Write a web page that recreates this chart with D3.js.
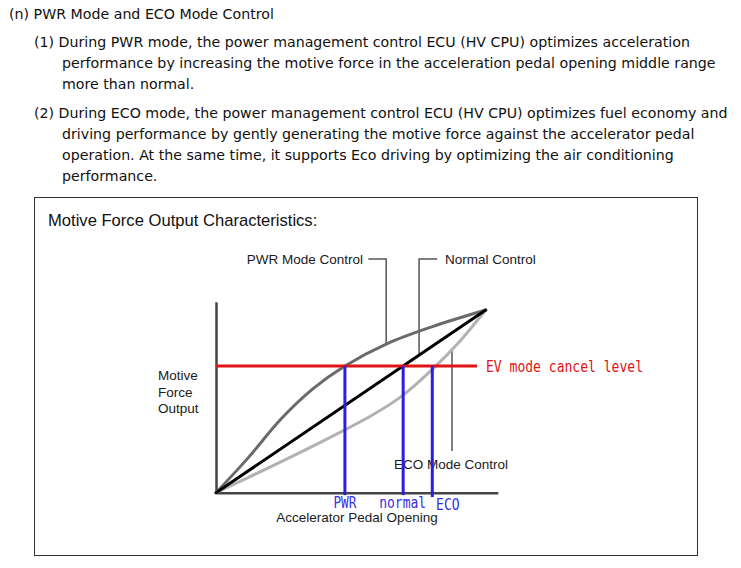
<!DOCTYPE html>
<html>
<head>
<meta charset="utf-8">
<script src="https://cdn.jsdelivr.net/npm/d3@7"></script>
<style>
  html, body { margin: 0; padding: 0; background: #fff; }
  svg { display: block; }
</style>
</head>
<body>
<svg id="chart" width="741" height="568"></svg>
<script>
// ---------- DATA ----------
const introLines = [
  "(n) PWR Mode and ECO Mode Control",
  "(1) During PWR mode, the power management control ECU (HV CPU) optimizes acceleration",
  "performance by increasing the motive force in the acceleration pedal opening middle range",
  "more than normal.",
  "(2) During ECO mode, the power management control ECU (HV CPU) optimizes fuel economy and",
  "driving performance by gently generating the motive force against the accelerator pedal",
  "operation. At the same time, it supports Eco driving by optimizing the air conditioning",
  "performance."
];
const introIndent = [0, 1, 2, 2, 1, 2, 2, 2];

const chartTitle = "Motive Force Output Characteristics:";
const yLabelLines = ["Motive", "Force", "Output"];
const xLabel = "Accelerator Pedal Opening";

// pedal opening (%) vs motive force (%)
const pwrX    = [0, 12, 24, 36, 47.8, 63.3, 80, 100];
const pwrY    = [0, 19.2, 40.2, 57, 69.4, 81.5, 90.8, 100];
const normalX = [0, 100];
const normalY = [0, 100];
const ecoX    = [0, 20, 40, 58, 69, 80.2, 90, 100];
const ecoY    = [0, 14, 28.5, 42.5, 53, 67.5, 82.2, 100];

const evLevel = 69.4;
const evLabel = "EV mode cancel level";
const cancelNames = ["PWR", "normal", "ECO"];
const cancelX     = [47.8, 69.4, 80.2];

const calloutNames = ["PWR Mode Control", "Normal Control", "ECO Mode Control"];

// ---------- DRAW ----------
const svg = d3.select("#chart");

const x = d3.scaleLinear().domain([0, 100]).range([216, 485.7]);
const y = d3.scaleLinear().domain([0, 100]).range([492.7, 310]);

// intro text
const introFont = "'DejaVu Sans', Verdana, sans-serif";
const introX = [9, 34, 62];
const introBase = [19, 47, 68, 89, 118, 139, 160, 181];
svg.append("g").selectAll("text").data(introLines).join("text")
  .attr("x", (d, i) => introX[introIndent[i]])
  .attr("y", (d, i) => introBase[i])
  .attr("font-family", introFont)
  .attr("font-size", 14.2)
  .attr("fill", "#111")
  .text(d => d);

// frame
svg.append("rect")
  .attr("x", 34.5).attr("y", 197.5).attr("width", 663).attr("height", 358)
  .attr("fill", "none").attr("stroke", "#333").attr("stroke-width", 1);

const sans = "'Liberation Sans', Arial, sans-serif";

svg.append("text")
  .attr("x", 48).attr("y", 226)
  .attr("font-family", sans).attr("font-size", 16.6).attr("fill", "#111")
  .text(chartTitle);

// axes (no ticks)
const axisG = svg.append("g");
const xAxis = d3.axisBottom(x.copy().domain([0, 104.5]).range([x(0), x(104.5)]))
  .tickValues([]).tickSizeOuter(0);
const yAxis = d3.axisLeft(y.copy().domain([0, 104.5]).range([y(0), y(104.5)]))
  .tickValues([]).tickSizeOuter(0);
axisG.append("g").attr("transform", `translate(0,${y(0)})`).call(xAxis)
  .select(".domain").attr("stroke", "#444").attr("stroke-width", 2.5);
axisG.append("g").attr("transform", `translate(${x(0)},0)`).call(yAxis)
  .select(".domain").attr("stroke", "#444").attr("stroke-width", 2.5);

// axis labels
svg.append("g").selectAll("text").data(yLabelLines).join("text")
  .attr("x", 158).attr("y", (d, i) => 380 + i * 16.5)
  .attr("font-family", sans).attr("font-size", 13.5).attr("fill", "#1a1a1a")
  .text(d => d);
svg.append("text")
  .attr("x", 357).attr("y", 522).attr("text-anchor", "middle")
  .attr("font-family", sans).attr("font-size", 13.5).attr("fill", "#1a1a1a")
  .text(xLabel);

// curves
const line = d3.line().x(d => x(d[0])).y(d => y(d[1])).curve(d3.curveCatmullRom.alpha(0.5));
const zip = (a, b) => a.map((v, i) => [v, b[i]]);

function valAt(xs, ys, xv) {
  for (let i = 1; i < xs.length; i++) {
    if (xv <= xs[i]) {
      const t = (xv - xs[i-1]) / (xs[i] - xs[i-1]);
      return ys[i-1] + t * (ys[i] - ys[i-1]);
    }
  }
  return ys[ys.length - 1];
}

// callouts
const callG = svg.append("g").attr("stroke", "#555").attr("stroke-width", 1.5).attr("fill", "none");
const pwrCallX = 63.1, normCallX = 75.3, ecoCallX = 87.5;
callG.append("path").attr("d",
  `M${x(56.5)},259 H${x(pwrCallX)} V${y(valAt(pwrX, pwrY, pwrCallX)) - 1}`);
callG.append("path").attr("d",
  `M${x(82)},259 H${x(normCallX)} V${y(valAt(normalX, normalY, normCallX)) - 1}`);
callG.append("path").attr("d",
  `M${x(ecoCallX)},${y(valAt(ecoX, ecoY, ecoCallX)) + 1} V451`);

svg.append("text").attr("x", 363).attr("y", 264).attr("text-anchor", "end")
  .attr("font-family", sans).attr("font-size", 13.5).attr("fill", "#1a1a1a")
  .text(calloutNames[0]);
svg.append("text").attr("x", 445).attr("y", 264)
  .attr("font-family", sans).attr("font-size", 13.5).attr("fill", "#1a1a1a")
  .text(calloutNames[1]);
svg.append("text").attr("x", 394).attr("y", 468.5)
  .attr("font-family", sans).attr("font-size", 13.5).attr("fill", "#1a1a1a")
  .text(calloutNames[2]);

const curveG = svg.append("g").attr("fill", "none").attr("stroke-linecap", "round").attr("stroke-linejoin", "round");
curveG.append("path").attr("d", line(zip(ecoX, ecoY))).attr("stroke", "#b2b2b2").attr("stroke-width", 3);
curveG.append("path").attr("d", line(zip(pwrX, pwrY))).attr("stroke", "#6a6a6a").attr("stroke-width", 3);
curveG.append("path").attr("d", line(zip(normalX, normalY))).attr("stroke", "#000").attr("stroke-width", 3);

// EV mode cancel level
svg.append("line")
  .attr("x1", x(0)).attr("x2", x(96.8)).attr("y1", y(evLevel)).attr("y2", y(evLevel))
  .attr("stroke", "#e01414").attr("stroke-width", 3);
const mono = "'DejaVu Sans Mono', 'Liberation Mono', monospace";
svg.append("text")
  .attr("x", 486).attr("y", 372)
  .attr("font-family", mono).attr("font-size", 16).attr("fill", "#e01414")
  .attr("textLength", 157).attr("lengthAdjust", "spacingAndGlyphs")
  .text(evLabel);

// blue drop lines
const dropBottom = [-1.3, -1.3, -2.4];
svg.append("g").selectAll("line").data(cancelX).join("line")
  .attr("x1", d => x(d)).attr("x2", d => x(d))
  .attr("y1", y(evLevel)).attr("y2", (d, i) => y(dropBottom[i]))
  .attr("stroke", "#2a1ee0").attr("stroke-width", 3);

const labelDx = [0, -0.5, 15.5];
const labelY = [507.5, 507.5, 510];
const labelW = [23, 47, 23.5];
svg.append("g").selectAll("text").data(cancelNames).join("text")
  .attr("x", (d, i) => x(cancelX[i]) + labelDx[i] - labelW[i] / 2)
  .attr("y", (d, i) => labelY[i])
  .attr("font-family", mono).attr("font-size", 15).attr("fill", "#3a2ee6")
  .attr("textLength", (d, i) => labelW[i]).attr("lengthAdjust", "spacingAndGlyphs")
  .text(d => d);
</script>
</body>
</html>
